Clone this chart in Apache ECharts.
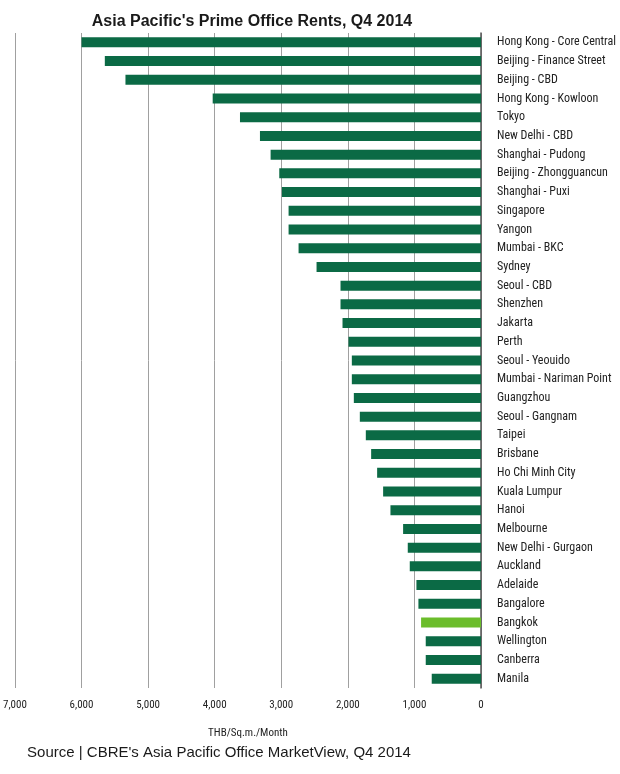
<!DOCTYPE html>
<html>
<head>
<meta charset="utf-8">
<script src="https://cdn.jsdelivr.net/npm/echarts@6/dist/echarts.min.js"></script>
<style>
html,body{margin:0;padding:0;background:#fff;}
#chart{width:620px;height:774px;}
</style>
</head>
<body>
<div id="chart"></div>
<script>
const titleText = "Asia Pacific's Prime Office Rents, Q4 2014";
const sourceText = "Source | CBRE's Asia Pacific Office MarketView, Q4 2014";
const axisName = "THB/Sq.m./Month";

const categories = [
  "Hong Kong - Core Central", "Beijing - Finance Street", "Beijing - CBD", "Hong Kong - Kowloon",
  "Tokyo", "New Delhi - CBD", "Shanghai - Pudong", "Beijing - Zhongguancun", "Shanghai - Puxi",
  "Singapore", "Yangon", "Mumbai - BKC", "Sydney", "Seoul - CBD", "Shenzhen", "Jakarta", "Perth",
  "Seoul - Yeouido", "Mumbai - Nariman Point", "Guangzhou", "Seoul - Gangnam", "Taipei", "Brisbane",
  "Ho Chi Minh City", "Kuala Lumpur", "Hanoi", "Melbourne", "New Delhi - Gurgaon", "Auckland",
  "Adelaide", "Bangalore", "Bangkok", "Wellington", "Canberra", "Manila"
];
const rents = [
  6000, 5650, 5340, 4030, 3620, 3320, 3160, 3030, 2990, 2890, 2890, 2740, 2470, 2110, 2110, 2080,
  1990, 1940, 1940, 1910, 1820, 1730, 1650, 1560, 1470, 1360, 1170, 1100, 1070, 970, 940, 900,
  830, 830, 740
];
const highlight = "Bangkok";

const darkGreen = "#0b6a45";
const lightGreen = "#6bbd2b";
const narrow = "'Liberation Sans Narrow','Arial Narrow','Roboto Condensed','DejaVu Sans Condensed',sans-serif";

const chart = echarts.init(document.getElementById('chart'), null, {renderer: 'canvas'});
chart.setOption({
  animation: false,
  backgroundColor: '#ffffff',
  title: [
    {text: titleText, left: 247, top: 9, textAlign: 'center',
     textStyle: {fontFamily: "'Liberation Sans',Arial,sans-serif", fontSize: 16, fontWeight: 'bold', color: '#1a1a1a'}},
    {text: sourceText, left: 214, top: 740, textAlign: 'center',
     textStyle: {fontFamily: "'Liberation Sans',Arial,sans-serif", fontSize: 15, fontWeight: 'normal', color: '#1a1a1a'}}
  ],
  grid: {left: 13, right: 139, top: 33, bottom: 86, containLabel: false},
  xAxis: {
    type: 'value', inverse: true, min: 0, max: 7000, interval: 1000,
    name: axisName, nameLocation: 'middle', nameGap: 40,
    nameTextStyle: {fontFamily: narrow, fontSize: 11, color: '#222'},
    axisLine: {show: false}, axisTick: {show: false},
    axisLabel: {fontFamily: narrow, fontSize: 11, color: '#222', margin: 12,
      formatter: v => v.toLocaleString('en-US')},
    splitLine: {show: true, lineStyle: {color: '#a0a0a0', width: 1}}
  },
  yAxis: {
    type: 'category', data: categories, inverse: true, position: 'right',
    axisLine: {show: true, lineStyle: {color: '#555', width: 1.5}},
    axisTick: {show: false},
    axisLabel: {fontFamily: narrow, fontSize: 12, color: '#222', margin: 16, align: 'left'},
    splitLine: {show: false}
  },
  series: [{
    type: 'bar', barWidth: 10,
    data: rents.map((v, i) => ({value: v,
      itemStyle: {color: categories[i] === highlight ? lightGreen : darkGreen}})),
    emphasis: {disabled: true}
  }]
});
</script>
</body>
</html>
